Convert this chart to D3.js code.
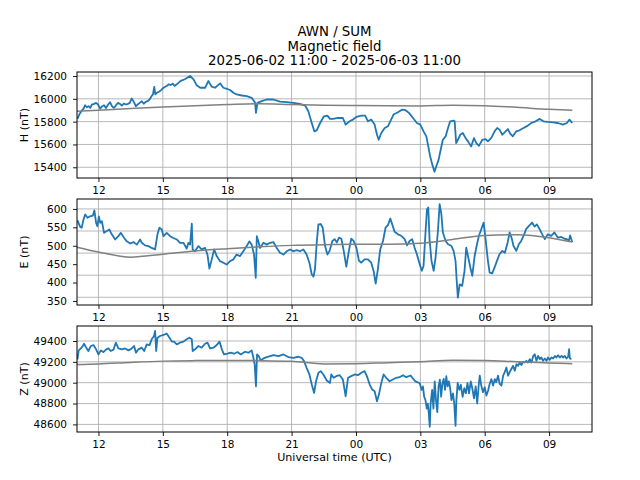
<!DOCTYPE html>
<html>
<head>
<meta charset="utf-8">
<script src="https://cdn.jsdelivr.net/npm/d3@7"></script>
<style>
  body { margin: 0; background: #fff; }
  text { font-family: "DejaVu Sans", sans-serif; }
</style>
</head>
<body>
<div id="wrapper"></div>
<script>
// all times are hours after 2025-06-02 00:00 UTC
const hTime = [11.02,11.12,11.22,11.31,11.38,11.46,11.54,11.62,11.69,11.80,11.89,11.98,12.08,12.17,12.26,12.35,12.45,12.54,12.63,12.72,12.82,12.91,13.00,13.09,13.18,13.28,13.37,13.46,13.55,13.65,13.74,13.83,13.92,14.02,14.11,14.20,14.29,14.38,14.48,14.54,14.60,14.65,14.72,14.82,14.91,15.00,15.09,15.18,15.28,15.37,15.46,15.55,15.65,15.74,15.83,15.92,16.02,
  16.27,16.43,16.58,16.74,16.97,17.12,17.28,17.43,17.67,17.82,17.98,18.13,18.29,18.44,18.68,18.91,19.14,19.30,19.34,19.41,19.61,19.84,20.15,20.46,20.77,21.08,21.39,21.63,21.78,21.94,22.06,22.17,22.33,22.51,22.67,22.79,
  22.93,23.16,23.39,23.52,23.70,23.86,24.02,24.25,24.43,24.56,24.71,24.87,24.98,25.06,25.18,25.34,25.49,25.60,25.75,25.96,26.16,26.31,26.47,26.66,26.84,27.00,27.15,27.28,27.37,27.46,27.56,27.66,27.74,27.85,27.93,28.05,28.18,28.29,28.39,28.55,28.60,28.67,28.75,28.86,28.98,29.11,29.22,29.37,29.50,29.61,29.73,29.89,30.04,30.15,30.30,30.46,30.58,30.69,30.82,30.97,31.08,31.19,31.31,31.47,31.62,31.81,32.01,32.17,32.37,32.56,32.74,32.94,33.18,33.41,33.64,33.83,33.95,34.08];
const hVals = [15825,15867,15896,15914,15944,15926,15935,15920,15950,15956,15964,15950,15914,15935,15944,15920,15950,15970,15935,15920,15944,15964,15956,15941,15959,15950,15956,15964,16003,15973,15935,15950,15964,15979,15956,15973,15979,15994,16024,16039,16104,16039,16053,16062,16074,16092,16104,16113,16127,16121,16133,16113,16127,16142,16157,16163,16172,
  16200,16171,16118,16097,16097,16156,16106,16097,16135,16097,16088,16077,16053,16038,16029,16024,16009,15965,15877,15965,15980,15994,15994,15976,15971,15965,15956,15941,15891,15788,15715,15724,15788,15847,15853,15824,
  15824,15832,15832,15774,15803,15818,15841,15853,15853,15803,15818,15774,15685,15641,15700,15744,15759,15803,15862,15882,15906,15900,15877,15832,15788,15774,15715,15671,15583,15494,15421,15360,15406,15465,15538,15641,15671,15744,15803,15809,15803,15612,15641,15685,15700,15656,15627,15583,15656,15612,15588,15641,15647,15627,15656,15715,15744,15730,15685,15715,15735,15694,15671,15715,15724,15744,15765,15788,15803,15824,15803,15797,15794,15788,15774,15788,15818,15788];

const eTime = [11.02,11.15,11.22,11.30,11.38,11.49,11.61,11.74,11.81,11.89,11.95,12.02,12.08,12.16,12.26,12.39,12.51,12.62,12.78,12.93,13.04,13.20,13.32,13.48,13.63,13.79,13.94,14.02,14.17,14.33,14.48,14.64,14.75,14.84,14.95,15.03,15.18,15.34,15.49,15.65,15.80,15.96,16.11,16.19,16.27,16.35,16.39,16.50,16.66,16.81,16.97,17.08,17.17,17.28,17.39,17.51,17.67,17.82,17.98,18.13,18.29,18.44,18.60,18.75,18.91,19.03,19.14,19.25,19.33,19.38,19.45,19.53,19.69,19.84,20.00,20.15,20.31,20.46,20.62,20.77,20.93,21.08,21.24,21.39,21.55,21.70,21.83,21.94,22.02,22.09,22.17,22.25,22.36,22.45,22.56,22.67,
  22.77,22.90,23.01,23.11,23.21,23.32,23.43,23.55,23.67,23.78,23.89,24.02,24.14,24.25,24.40,24.56,24.71,24.82,24.92,25.02,25.13,25.26,25.38,25.49,25.60,25.69,25.80,25.96,26.11,26.27,26.38,26.50,26.62,26.73,26.84,26.97,27.07,27.15,27.25,27.31,27.37,27.43,27.52,27.62,27.71,27.82,27.90,27.98,28.05,28.18,28.29,28.44,28.55,28.64,28.70,28.75,28.83,28.95,29.06,29.14,29.22,29.33,29.42,29.53,29.64,29.73,29.84,29.95,30.04,30.15,30.23,30.35,30.46,30.57,30.69,30.82,30.94,31.07,31.16,31.25,31.34,31.47,31.59,31.70,31.81,31.93,32.06,32.21,32.32,32.43,32.56,32.68,32.80,32.94,33.10,33.25,33.41,33.57,33.72,33.83,33.92,33.98,34.08];
const eVals = [569,551,549,571,585,576,580,582,596,562,553,580,562,567,535,540,544,531,517,526,535,521,512,506,510,503,517,508,501,499,494,490,531,549,544,526,535,526,521,517,508,508,492,508,503,560,490,485,499,490,494,476,438,463,490,472,458,454,449,458,463,476,472,485,499,512,503,476,413,526,512,494,508,503,508,510,494,481,476,485,490,485,488,485,490,476,454,422,416,436,508,558,559,549,499,476,
  486,513,518,509,522,519,486,443,486,519,513,495,459,454,463,463,454,432,397,436,490,513,549,556,574,558,538,531,527,518,501,513,518,495,477,450,432,445,545,599,604,518,459,432,468,540,613,586,536,513,504,500,486,459,400,359,395,391,432,495,472,441,418,472,504,527,545,563,518,459,427,425,441,459,477,486,481,509,536,522,500,486,504,513,527,545,554,563,552,558,545,531,518,531,527,536,522,524,519,518,513,528,510];

const zTime = [11.02,11.08,11.18,11.27,11.33,11.43,11.53,11.64,11.77,11.89,12.00,12.11,12.23,12.36,12.47,12.57,12.70,12.81,12.93,13.09,13.24,13.40,13.55,13.66,13.75,13.86,14.02,14.13,14.25,14.38,14.48,14.59,14.64,14.69,14.75,14.87,15.03,15.18,15.31,15.42,15.52,15.65,15.80,15.96,16.11,16.24,16.35,16.39,16.50,16.66,16.81,16.97,17.08,17.20,17.36,17.51,17.64,17.75,17.85,18.01,18.16,18.32,18.48,18.63,18.83,18.99,19.14,19.22,19.28,19.34,19.39,19.47,19.56,19.69,19.84,20.00,20.15,20.39,20.62,20.85,21.08,21.32,21.47,21.58,21.70,21.83,21.94,22.05,22.14,22.25,22.36,22.48,22.64,22.79,
  22.85,22.96,23.08,23.24,23.39,23.52,23.63,23.78,23.94,24.09,24.25,24.40,24.51,24.64,24.76,24.87,24.98,25.07,25.18,25.29,25.41,25.57,25.72,25.88,26.03,26.19,26.34,
  26.55,26.67,26.77,26.88,26.97,27.06,27.12,27.18,27.24,27.30,27.35,27.39,27.44,27.48,27.55,27.61,27.67,27.73,27.79,27.85,27.91,27.97,28.03,28.09,28.15,28.21,28.27,28.33,28.39,28.45,28.52,28.58,28.64,28.68,28.74,28.82,28.89,28.97,29.05,29.12,29.20,29.27,29.35,29.42,29.50,29.58,29.65,29.73,
  29.77,29.84,29.92,30.00,30.08,30.16,30.23,30.31,30.39,30.47,30.54,30.62,30.70,30.78,30.86,30.93,31.01,31.09,31.17,31.24,31.32,31.40,31.48,31.56,31.63,31.71,31.79,31.87,31.94,32.02,32.10,32.18,32.26,32.33,32.41,32.49,32.57,32.64,32.72,32.80,32.88,32.95,33.03,33.11,33.19,33.27,33.34,33.42,33.50,33.58,33.65,33.73,33.81,33.89,33.93,33.97,34.04];
const zVals = [49223,49310,49329,49352,49374,49336,49304,49352,49361,49320,49271,49310,49294,49320,49329,49304,49317,49384,49329,49320,49329,49310,49329,49352,49288,49320,49336,49304,49368,49361,49416,49448,49496,49304,49432,49448,49458,49471,49432,49394,49394,49368,49384,49394,49416,49432,49416,49304,49320,49352,49336,49374,49384,49329,49336,49361,49394,49320,49271,49278,49288,49278,49294,49271,49297,49288,49310,49239,49175,48966,49271,49255,49214,49233,49246,49255,49265,49255,49271,49246,49239,49249,49239,49207,49143,49079,48982,48902,49014,49095,49111,49079,49021,48998,
  49079,49047,49063,49072,49031,48870,49047,49063,49079,49072,49095,49111,49063,48982,48934,48918,48822,48886,48998,49079,49047,49014,49031,49047,49053,49072,49053,
  49069,49036,49013,49003,48997,48931,48964,48865,48833,48751,48800,48718,48577,48800,48931,48751,49013,48833,48718,48964,49029,48865,48997,49036,48931,49062,48964,49013,48947,48833,48898,48800,48587,48833,48997,48931,48980,48865,48947,48898,48997,48898,49013,48947,48849,48964,48800,48997,
  49067,48972,48909,48956,48877,48925,48988,49035,48972,49035,49004,49067,48988,48972,49067,49099,49146,49067,49105,49131,49162,49115,49178,49162,49194,49169,49200,49194,49210,49194,49226,49194,49257,49273,49210,49257,49226,49242,49210,49232,49210,49242,49219,49242,49232,49257,49242,49264,49242,49257,49242,49257,49232,49251,49321,49232,49226];

// quiet-day baselines (grey curves)
const baseTime = [11,12,13.5,15,16.5,18,19.5,21,22.5,24,25.5,27,28.5,30,31.5,33,34.08];
const hBase = [15891,15900,15915,15928,15940,15950,15957,15950,15944,15941,15939,15938,15943,15940,15925,15908,15900];
const eBase = [496,483,469,477,486,492,497,501,503,504,504,507,517,528,530,522,510];
const zBase = [49175,49180,49195,49207,49212,49214,49212,49205,49180,49182,49192,49201,49215,49214,49201,49190,49182];

// axis limits and ticks
const hLim = [15306, 16235];
const eLim = [339, 627];
const zLim = [48527, 49544];
const hTicks = [15400, 15600, 15800, 16000, 16200];
const eTicks = [350, 400, 450, 500, 550, 600];
const eGrid = [360, 420, 480, 540, 600];
const zTicks = [48600, 48800, 49000, 49200, 49400];

const yLabels = ['H (nT)', 'E (nT)', 'Z (nT)'];
const titleLines = ['AWN / SUM', 'Magnetic field', '2025-06-02 11:00 - 2025-06-03 11:00'];
const xTitle = 'Universal time (UTC)';
const timeRange = ['2025-06-02T11:00:00Z', '2025-06-03T11:00:00Z'];

function toDate(h) {
  return new Date(Date.UTC(2025, 5, 2) + h * 3600e3);
}

function drawChart() {
  const width = 640, height = 480;
  const left = 77, right = 592;
  const tops = [72, 199, 326];
  const ph = 106;

  const svg = d3.select('#wrapper').append('svg')
    .attr('width', width).attr('height', height)
    .style('display', 'block');
  svg.append('rect').attr('width', width).attr('height', height).attr('fill', '#fff');

  const x = d3.scaleUtc()
    .domain(timeRange.map(s => new Date(s)))
    .range([left, right]);
  const xTicks = x.ticks(d3.utcHour.every(3));

  const panels = [
    { t: hTime, v: hVals, base: hBase, lim: hLim, ticks: hTicks, grid: hTicks, label: yLabels[0] },
    { t: eTime, v: eVals, base: eBase, lim: eLim, ticks: eTicks, grid: eGrid, label: yLabels[1] },
    { t: zTime, v: zVals, base: zBase, lim: zLim, ticks: zTicks, grid: zTicks, label: yLabels[2] },
  ];

  panels.forEach((p, i) => {
    const top = tops[i], bottom = top + ph;
    const y = d3.scaleLinear().domain(p.lim).range([bottom, top]);
    const g = svg.append('g');

    // grid
    g.selectAll('.vgrid').data(xTicks).enter().append('line')
      .attr('x1', d => x(d)).attr('x2', d => x(d))
      .attr('y1', top).attr('y2', bottom)
      .attr('stroke', '#b0b0b0').attr('stroke-width', 0.9);
    g.selectAll('.hgrid').data(p.grid).enter().append('line')
      .attr('x1', left).attr('x2', right)
      .attr('y1', d => y(d)).attr('y2', d => y(d))
      .attr('stroke', '#b0b0b0').attr('stroke-width', 0.9);

    const clipId = 'clip' + i;
    svg.append('clipPath').attr('id', clipId).append('rect')
      .attr('x', left).attr('y', top).attr('width', right - left).attr('height', ph);

    // measured series
    const pts = p.t.map((t, k) => [t, p.v[k]]);
    g.append('path')
      .datum(pts)
      .attr('clip-path', `url(#${clipId})`)
      .attr('d', d3.line().x(d => x(toDate(d[0]))).y(d => y(d[1])))
      .attr('fill', 'none').attr('stroke', '#1f77b4')
      .attr('stroke-width', 1.8).attr('stroke-linejoin', 'round');

    // baseline
    const bpts = baseTime.map((t, k) => [t, p.base[k]]);
    g.append('path')
      .datum(bpts)
      .attr('d', d3.line().curve(d3.curveMonotoneX).x(d => x(toDate(d[0]))).y(d => y(d[1])))
      .attr('fill', 'none').attr('stroke', '#808080').attr('stroke-width', 1.5);

    // axes
    const xa = g.append('g').attr('transform', `translate(0,${bottom})`)
      .call(d3.axisBottom(x).tickValues(xTicks).tickFormat(d3.utcFormat('%H'))
        .tickSize(4).tickSizeOuter(0).tickPadding(4.5));
    const ya = g.append('g').attr('transform', `translate(${left},0)`)
      .call(d3.axisLeft(y).tickValues(p.ticks).tickFormat(d3.format('d'))
        .tickSize(4).tickSizeOuter(0).tickPadding(6));
    [xa, ya].forEach(a => {
      a.select('.domain').remove();
      a.selectAll('line').attr('stroke', '#000').attr('stroke-width', 0.9);
      a.selectAll('text').attr('fill', '#000').style('font-size', '10.5px')
        .style('font-family', '"DejaVu Sans", sans-serif');
    });

    // frame
    g.append('rect')
      .attr('x', left).attr('y', top).attr('width', right - left).attr('height', ph)
      .attr('fill', 'none').attr('stroke', '#000').attr('stroke-width', 1);

    // y label
    g.append('text')
      .attr('transform', `translate(28,${top + ph / 2}) rotate(-90)`)
      .attr('text-anchor', 'middle')
      .style('font-size', '11.1px')
      .text(p.label);
  });

  // title
  svg.selectAll('.title').data(titleLines).enter().append('text')
    .attr('x', (left + right) / 2)
    .attr('y', (d, i) => 36 + i * 14.5)
    .attr('text-anchor', 'middle')
    .style('font-size', '13.3px')
    .text(d => d);

  svg.append('text')
    .attr('x', (left + right) / 2).attr('y', 461)
    .attr('text-anchor', 'middle')
    .style('font-size', '11.1px')
    .text(xTitle);
}

drawChart();
</script>
</body>
</html>
